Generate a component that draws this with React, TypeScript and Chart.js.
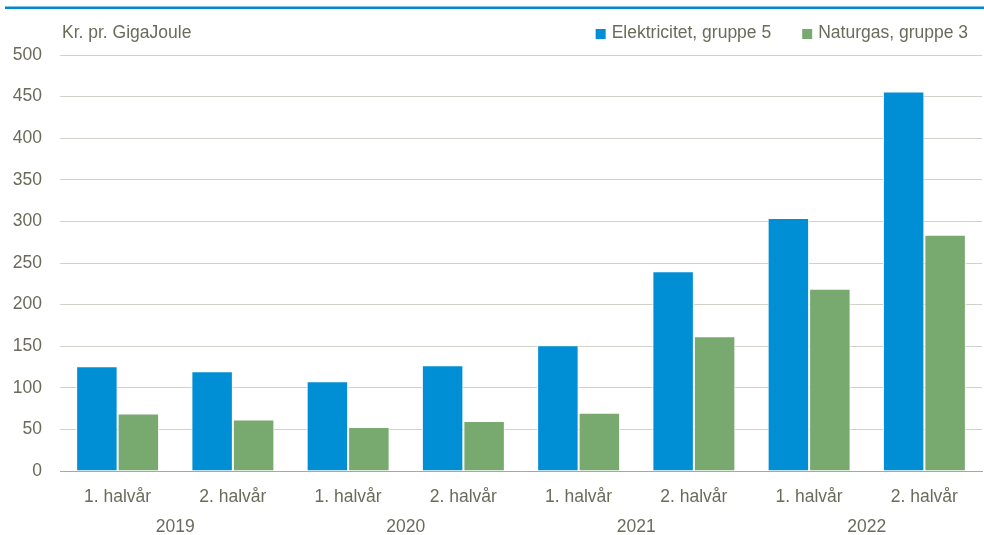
import React, { useEffect, useRef } from 'react';
import { Chart, registerables } from 'chart.js';

Chart.register(...registerables);

const halfYears = ['1. halvår', '2. halvår', '1. halvår', '2. halvår', '1. halvår', '2. halvår', '1. halvår', '2. halvår'];
const years = ['2019', '2020', '2021', '2022'];
const elektricitet = [126, 120, 108, 127, 151, 240, 304, 456];
const naturgas = [69, 62, 53, 60, 70, 162, 219, 284];
const seriesNames = ['Elektricitet, gruppe 5', 'Naturgas, gruppe 3'];
const unitLabel = 'Kr. pr. GigaJoule';
const yMin = 0;
const yMax = 500;
const yStep = 50;

const FONT = '"Liberation Sans", Arial, sans-serif';
const FS = 17.5;
const TEXT = '#6b6b5c';
const BLUE = '#008fd5';
const GREEN = '#78aa70';

const decor = {
  id: 'decor',
  afterDraw(chart: any) {
    const ctx = chart.ctx;
    ctx.save();
    ctx.fillStyle = '#0088cc';
    ctx.fillRect(5, 6.5, chart.width - 5, 2.5);
    ctx.font = `${FS}px ${FONT}`;
    ctx.textBaseline = 'middle';
    ctx.textAlign = 'left';
    ctx.fillStyle = TEXT;
    const ty = 33.5;
    ctx.fillText(unitLabel, chart.chartArea.left + 2, ty);
    const items = chart.data.datasets.map((d: any) => ({
      text: d.label,
      color: d.backgroundColor,
      w: ctx.measureText(d.label).width,
    }));
    let x = 968;
    for (let i = items.length - 1; i >= 0; i--) {
      const it = items[i];
      const tx = x - it.w;
      ctx.fillStyle = TEXT;
      ctx.fillText(it.text, tx, ty);
      ctx.fillStyle = it.color;
      ctx.fillRect(tx - 16, 29, 10, 10);
      x = tx - 16 - 31;
    }
    ctx.restore();
  },
};

export default function App() {
  const ref = useRef<HTMLCanvasElement | null>(null);
  useEffect(() => {
    document.body.style.margin = '0';
    const canvas = ref.current;
    if (!canvas) return;
    const chart = new Chart(canvas, {
      type: 'bar',
      data: {
        labels: halfYears,
        datasets: [
          {
            label: seriesNames[0],
            data: elektricitet,
            backgroundColor: BLUE,
            borderColor: '#ffffff',
            borderWidth: 1,
            borderSkipped: 'bottom',
            categoryPercentage: 0.72,
            barPercentage: 1,
          },
          {
            label: seriesNames[1],
            data: naturgas,
            backgroundColor: GREEN,
            borderColor: '#ffffff',
            borderWidth: 1,
            borderSkipped: 'bottom',
            categoryPercentage: 0.72,
            barPercentage: 1,
          },
        ],
      },
      options: {
        responsive: false,
        animation: false,
        devicePixelRatio: 1,
        layout: { padding: { top: 55, left: 13, right: 2, bottom: 0 } },
        plugins: {
          legend: { display: false },
          title: { display: false },
          tooltip: { enabled: false },
        },
        scales: {
          x: {
            type: 'category',
            position: 'bottom',
            weight: 0,
            grid: { display: false, drawTicks: false },
            border: { display: true, color: '#a9a89c', width: 1 },
            ticks: {
              color: TEXT,
              font: { family: FONT, size: FS },
              padding: 15.5,
              maxRotation: 0,
              autoSkip: false,
            },
            afterFit(scale: any) {
              scale.height = 40;
            },
          },
          x2: {
            type: 'category',
            position: 'bottom',
            weight: 1,
            labels: years,
            offset: true,
            grid: { display: false, drawTicks: false },
            border: { display: false },
            ticks: {
              color: TEXT,
              font: { family: FONT, size: FS },
              padding: 5.5,
              maxRotation: 0,
              autoSkip: false,
            },
            afterFit(scale: any) {
              scale.height = 24;
            },
          },
          y: {
            min: yMin,
            max: yMax,
            grid: { color: '#d3d2c9', lineWidth: 1, drawTicks: false },
            border: { display: false },
            ticks: {
              stepSize: yStep,
              color: TEXT,
              font: { family: FONT, size: FS },
              padding: 18,
            },
            afterFit(scale: any) {
              scale.width = 47;
            },
          },
        },
      },
      plugins: [decor],
    });
    return () => chart.destroy();
  }, []);
  return (
    <div style={{ width: 984, height: 535 }}>
      <canvas ref={ref} width={984} height={535} style={{ display: 'block' }} />
    </div>
  );
}
